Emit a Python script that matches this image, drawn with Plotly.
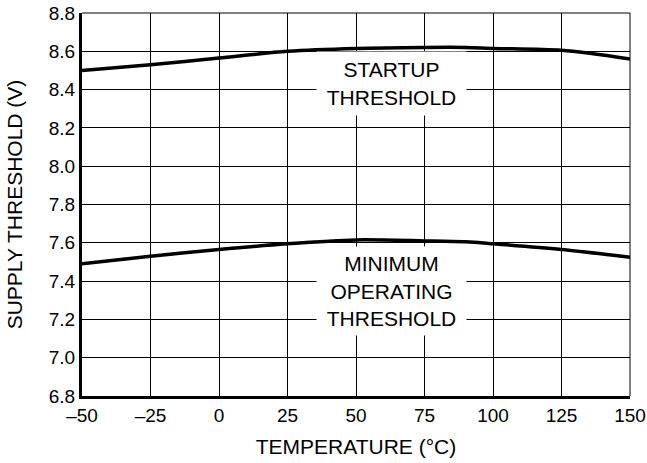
import plotly.graph_objects as go

temps = [-50, -25, 0, 25, 50, 75, 90, 100, 125, 150]
startup = [8.50, 8.53, 8.565, 8.60, 8.615, 8.62, 8.62, 8.615, 8.605, 8.56]
minimum = [7.49, 7.53, 7.565, 7.595, 7.615, 7.61, 7.605, 7.595, 7.565, 7.525]

x_ticks = [-50, -25, 0, 25, 50, 75, 100, 125, 150]
x_labels = ["–50", "–25", "0", "25", "50", "75", "100", "125", "150"]
y_ticks = [6.8, 7.0, 7.2, 7.4, 7.6, 7.8, 8.0, 8.2, 8.4, 8.6, 8.8]
y_labels = ["6.8", "7.0", "7.2", "7.4", "7.6", "7.8", "8.0", "8.2", "8.4", "8.6", "8.8"]

FONT = "Liberation Sans, Arial, sans-serif"

fig = go.Figure()
for ys in (startup, minimum):
    fig.add_trace(go.Scatter(x=temps, y=ys, mode="lines", line=dict(color="black", width=3.5, shape="spline", smoothing=0.8),
                             hoverinfo="skip", showlegend=False))

fig.add_annotation(x=63, y=8.43, text="STARTUP<br>THRESHOLD", showarrow=False, bgcolor="white",
                   font=dict(family=FONT, size=21, color="black"), width=149, height=63, borderpad=0)
fig.add_annotation(x=63, y=7.35, text="MINIMUM<br>OPERATING<br>THRESHOLD", showarrow=False, bgcolor="white",
                   font=dict(family=FONT, size=21, color="black"), width=149, height=88, borderpad=0)

# thin top and right borders
fig.add_shape(type="line", xref="paper", yref="paper", x0=0, x1=1, y0=1, y1=1, line=dict(color="black", width=1))
fig.add_shape(type="line", xref="paper", yref="paper", x0=1, x1=1, y0=0, y1=1, line=dict(color="black", width=1))

fig.update_xaxes(range=[-50, 150], tickvals=x_ticks, ticktext=x_labels, showgrid=True, gridcolor="black", gridwidth=1,
                 showline=True, linecolor="black", linewidth=3, ticks="", zeroline=False, automargin=False,
                 ticklabeloverflow="allow",
                 tickfont=dict(family=FONT, size=19, color="black"),
                 title=dict(text="TEMPERATURE (°C)", font=dict(family=FONT, size=21, color="black"), standoff=15))
fig.update_yaxes(range=[6.8, 8.8], tickvals=y_ticks, ticktext=y_labels, showgrid=True, gridcolor="black", gridwidth=1,
                 showline=True, linecolor="black", linewidth=3, ticks="", zeroline=False, automargin=False,
                 ticklabeloverflow="allow",
                 tickfont=dict(family=FONT, size=19, color="black"),
                 title=dict(text="SUPPLY THRESHOLD (V)", font=dict(family=FONT, size=21, color="black"), standoff=21))

fig.update_layout(width=647, height=463, margin=dict(l=82, r=17, t=13, b=67),
                  plot_bgcolor="white", paper_bgcolor="white")

fig.write_html("out.html", config={"displayModeBar": False},
               post_script="document.body.style.margin='0';document.body.style.overflow='hidden';")
